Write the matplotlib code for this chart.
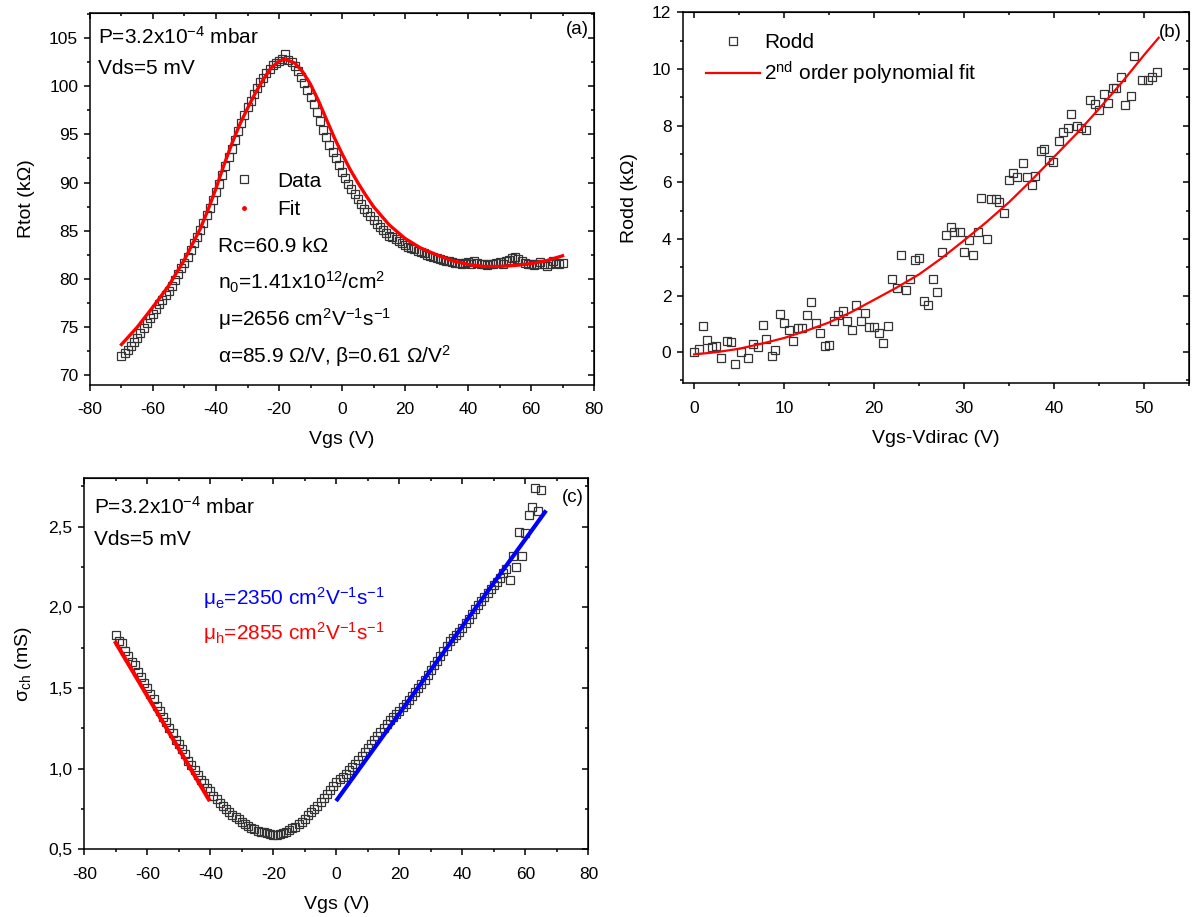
import numpy as np
import matplotlib.pyplot as plt
from matplotlib.ticker import MultipleLocator, FuncFormatter
from matplotlib.lines import Line2D

plt.rcParams['font.family'] = ['Liberation Sans', 'DejaVu Sans']
plt.rcParams['mathtext.fontset'] = 'custom'
plt.rcParams['mathtext.rm'] = 'Liberation Sans'
plt.rcParams['mathtext.it'] = 'Liberation Sans:italic'
plt.rcParams['mathtext.bf'] = 'Liberation Sans:bold'
plt.rcParams['axes.unicode_minus'] = False

# ---- (a) Rtot vs Vgs ----
vgs_a = np.arange(-70, 71)
rtot = [72.0, 72.3, 72.6, 73.0, 73.5, 73.9, 74.4, 74.9, 75.4, 75.9,
        76.4, 76.9, 77.4, 77.8, 78.3, 78.7, 79.3, 79.9, 80.5, 81.1,
        81.7, 82.3, 83.0, 83.7, 84.4, 85.1, 85.8, 86.6, 87.4, 88.2,
        89.0, 89.9, 90.8, 91.7, 92.6, 93.5, 94.4, 95.3, 96.2, 97.0,
        97.8, 98.5, 99.2, 99.8, 100.4, 100.9, 101.4, 101.8, 102.2, 102.4,
        102.6, 102.8, 103.3, 102.7, 102.5, 102.1, 101.6, 101.0, 100.3, 99.6,
        98.9, 98.1, 97.3, 96.4, 95.5, 94.7, 93.9, 93.2, 92.5, 91.8,
        91.1, 90.5, 89.9, 89.3, 88.8, 88.3, 87.8, 87.3, 86.9, 86.5,
        86.1, 85.7, 85.4, 85.1, 84.8, 84.5, 84.3, 84.1, 83.9, 83.7,
        83.5, 83.3, 83.2, 83.1, 82.9, 82.8, 82.7, 82.5, 82.4, 82.3,
        82.2, 82.1, 82.0, 81.9, 81.9, 81.8, 81.7, 81.7, 81.6, 81.7,
        81.8, 81.6, 81.9, 81.7, 81.5, 81.6, 81.4, 81.6, 81.5, 81.7,
        81.8, 81.6, 81.9, 82.0, 82.2, 82.3, 82.1, 81.9, 81.7, 81.6,
        81.5, 81.4, 81.6, 81.8, 81.5, 81.3, 81.6, 81.9, 81.7, 81.6,
        81.7]
fit_a_x = [-70, -65, -60, -55, -50, -45, -42.5, -40, -37.5, -35, -32.5, -30,
           -27.5, -25, -22.5, -20, -18, -15, -12.5, -10, -7.5, -5, -2.5, 0,
           2.5, 5, 7.5, 10, 15, 20, 25, 30, 35, 40, 45, 50, 55, 60, 65, 70]
fit_a_y = [73.2, 75.0, 77.1, 79.3, 82.0, 85.2, 87.2, 89.4, 91.8, 94.0,
           96.0, 97.7, 99.3, 100.7, 101.9, 102.6, 102.8, 102.4, 101.5, 100.2,
           98.5, 96.6, 94.7, 93.0, 91.4, 90.0, 88.7, 87.5, 85.6, 84.2,
           83.2, 82.5, 81.9, 81.5, 81.3, 81.3, 81.4, 81.6, 81.9, 82.4]

# ---- (b) Rodd vs Vgs-Vdirac ----
dv_b = [0, 0.5, 1.0, 1.45, 2.0, 2.4, 3.0, 3.6, 4.1, 4.5, 5.2, 6.0, 6.5, 7.1,
        7.6, 8.0, 8.6, 9.0, 9.5, 10.0, 10.5, 11.0, 11.5, 12.0, 12.5, 13.0,
        13.5, 14.0, 14.5, 15.0, 15.5, 16.0, 16.5, 17.0, 17.5, 18.0, 18.5,
        19.0, 19.4, 20.0, 20.5, 21.0, 21.5, 22.0, 22.5, 23.0, 23.5, 24.0,
        24.5, 25.0, 25.5, 26.0, 26.5, 27.0, 27.5, 28.0, 28.5, 28.9, 29.5,
        30.0, 30.5, 31.0, 31.5, 31.9, 32.5, 33.0, 33.5, 33.9, 34.4, 35.0,
        35.4, 35.9, 36.5, 37.0, 37.5, 37.9, 38.5, 38.9, 39.4, 39.9, 40.5,
        41.0, 41.5, 41.9, 42.5, 43.0, 43.5, 44.0, 44.5, 45.0, 45.5, 46.0,
        46.5, 46.9, 47.4, 47.9, 48.5, 48.9, 49.7, 50.4, 50.9, 51.4]
rodd = [0.0, 0.1, 0.93, 0.44, 0.18, 0.2, -0.2, 0.39, 0.35, -0.41, 0.0, -0.2,
        0.29, 0.19, 0.97, 0.48, -0.12, 0.06, 1.36, 1.03, 0.77, 0.39, 0.85,
        0.85, 1.32, 1.76, 1.03, 0.68, 0.21, 0.27, 1.09, 1.32, 1.47, 1.09,
        0.77, 1.67, 1.09, 1.38, 0.89, 0.88, 0.68, 0.33, 0.91, 2.6, 2.28,
        3.42, 2.2, 2.57, 3.25, 3.31, 1.79, 1.67, 2.57, 2.14, 3.52, 4.15,
        4.42, 4.24, 4.24, 3.52, 3.95, 3.42, 4.26, 5.43, 4.0, 5.41, 5.41,
        5.29, 4.9, 6.07, 6.34, 6.19, 6.69, 6.17, 5.9, 6.22, 7.1, 7.16, 6.79,
        6.72, 7.45, 7.77, 7.92, 8.41, 7.98, 7.92, 7.86, 8.92, 8.77, 8.56,
        9.11, 8.8, 9.32, 9.32, 9.73, 8.74, 9.03, 10.46, 9.62, 9.62, 9.72,
        9.88]
fit_b_x = [0, 2.5, 5, 7.5, 10, 12.5, 15, 17.5, 20, 22.5, 25, 27.5, 30, 32.5,
           35, 37.5, 40, 42.5, 45, 47.5, 50, 51.6]
fit_b_y = [-0.08, 0.0, 0.12, 0.3, 0.5, 0.76, 1.05, 1.42, 1.85, 2.28, 2.75,
           3.32, 3.95, 4.6, 5.3, 6.08, 6.9, 7.72, 8.6, 9.52, 10.5, 11.1]

# ---- (c) sigma_ch vs Vgs ----
vgs_c = np.arange(-70, 66)
sigma = [1.83, 1.79, 1.78, 1.73, 1.70, 1.66, 1.64, 1.60, 1.57, 1.53,
         1.50, 1.46, 1.43, 1.39, 1.36, 1.32, 1.29, 1.25, 1.22, 1.18,
         1.15, 1.12, 1.09, 1.05, 1.02, 0.99, 0.96, 0.93, 0.91, 0.88,
         0.86, 0.83, 0.81, 0.79, 0.77, 0.75, 0.73, 0.715, 0.70, 0.685,
         0.67, 0.655, 0.645, 0.635, 0.625, 0.615, 0.61, 0.605, 0.60, 0.595,
         0.59, 0.59, 0.595, 0.60, 0.61, 0.62, 0.63, 0.64, 0.655, 0.67,
         0.69, 0.71, 0.73, 0.75, 0.77, 0.795, 0.82, 0.845, 0.87, 0.895,
         0.92, 0.935, 0.95, 0.97, 0.99, 1.01, 1.03, 1.055, 1.08, 1.105,
         1.13, 1.155, 1.18, 1.205, 1.23, 1.255, 1.28, 1.30, 1.32, 1.34,
         1.36, 1.38, 1.40, 1.425, 1.45, 1.475, 1.50, 1.525, 1.55, 1.58,
         1.61, 1.64, 1.67, 1.70, 1.73, 1.76, 1.79, 1.81, 1.83, 1.85,
         1.87, 1.90, 1.93, 1.96, 1.99, 2.015, 2.04, 2.065, 2.09, 2.115,
         2.14, 2.16, 2.18, 2.21, 2.24, 2.17, 2.32, 2.25, 2.47, 2.32,
         2.46, 2.57, 2.62, 2.74, 2.60, 2.73]
hole_fit_x = [-70, -40.5]
hole_fit_y = [1.78, 0.81]
elec_fit_x = [0.3, 66.2]
elec_fit_y = [0.81, 2.59]

fig = plt.figure(figsize=(12.03, 9.17), dpi=100)

TICK = 12.5
LAB = 14
ANN = 15


def style(ax, xmaj, xmin, ymaj, ymin):
    for s in ax.spines.values():
        s.set_linewidth(1.1)
    ax.xaxis.set_major_locator(MultipleLocator(xmaj))
    ax.xaxis.set_minor_locator(MultipleLocator(xmin))
    ax.yaxis.set_major_locator(MultipleLocator(ymaj))
    ax.yaxis.set_minor_locator(MultipleLocator(ymin))
    ax.tick_params(which='both', direction='out', width=1.1, labelsize=TICK)
    ax.tick_params(which='major', length=4.5)
    ax.tick_params(which='minor', length=2.5)
    ax.tick_params(axis='x', pad=8)
    ax.tick_params(axis='y', pad=4)
    top = ax.secondary_xaxis('top')
    top.xaxis.set_major_locator(MultipleLocator(xmaj))
    top.xaxis.set_minor_locator(MultipleLocator(xmin))
    top.tick_params(which='both', direction='in', width=1.1, labeltop=False)
    top.tick_params(which='major', length=4.5)
    top.tick_params(which='minor', length=2.5)
    right = ax.secondary_yaxis('right')
    right.yaxis.set_major_locator(MultipleLocator(ymaj))
    right.yaxis.set_minor_locator(MultipleLocator(ymin))
    right.tick_params(which='both', direction='in', width=1.1, labelright=False)
    right.tick_params(which='major', length=4.5)
    right.tick_params(which='minor', length=2.5)


sq = dict(ls='none', marker='s', mfc='none', mec='#333333', ms=6, mew=0.9)

# panel (a)
ax1 = fig.add_axes([0.0748, 0.5802, 0.419, 0.4057])
ax1.plot(vgs_a, rtot, **sq)
ax1.plot(fit_a_x, fit_a_y, color='red', lw=2.4)
ax1.set_xlim(-80, 80)
ax1.set_ylim(69.0, 107.6)
style(ax1, 20, 10, 5, 2.5)
ax1.set_xlabel('Vgs (V)', fontsize=LAB, labelpad=10)
ax1.set_ylabel('Rtot (kΩ)', fontsize=LAB, labelpad=10)
ax1.text(0.015, 0.936, 'P=3.2x10$^{-4}$ mbar', transform=ax1.transAxes,
         fontsize=ANN, va='center')
ax1.text(0.015, 0.850, 'Vds=5 mV', transform=ax1.transAxes, fontsize=ANN,
         va='center')
ax1.text(0.99, 0.955, '(a)', transform=ax1.transAxes, fontsize=13.5,
         va='center', ha='right')
h_data = Line2D([], [], **sq)
h_fit = Line2D([], [], ls='none', marker='o', ms=2.5, color='red')
ax1.legend([h_data, h_fit], ['Data', 'Fit'], loc='center left',
           bbox_to_anchor=(0.265, 0.51), frameon=False, fontsize=ANN,
           handlelength=2, handletextpad=0.6, labelspacing=0.45,
           borderpad=0, borderaxespad=0)
info = ['Rc=60.9 kΩ', 'n$_0$=1.41x10$^{12}$/cm$^2$',
        'μ=2656 cm$^2$V$^{-1}$s$^{-1}$',
        'α=85.9 Ω/V, β=0.61 Ω/V$^2$']
for txt, yy in zip(info, [0.372, 0.275, 0.176, 0.079]):
    ax1.text(0.254, yy, txt, transform=ax1.transAxes, fontsize=ANN,
             va='center')

# panel (b)
ax2 = fig.add_axes([0.568, 0.582, 0.4206, 0.4046])
ax2.plot(dv_b, rodd, **sq)
ax2.plot(fit_b_x, fit_b_y, color='red', lw=1.6)
ax2.set_xlim(-1.2, 55)
ax2.set_ylim(-1.1, 12)
style(ax2, 10, 5, 2, 1)
ax2.set_xlabel('Vgs-Vdirac (V)', fontsize=LAB, labelpad=10)
ax2.set_ylabel('Rodd (kΩ)', fontsize=LAB, labelpad=10)
ax2.text(0.985, 0.945, '(b)', transform=ax2.transAxes, fontsize=13.5,
         va='center', ha='right')
h_rodd = Line2D([], [], **sq)
h_poly = Line2D([], [], color='red', lw=1.6)
ax2.legend([h_rodd, h_poly], ['Rodd', '2$^\\mathrm{nd}$ order polynomial fit'],
           loc='center left', bbox_to_anchor=(0.045, 0.871), frameon=False,
           fontsize=ANN, handlelength=2.6, handletextpad=0.2,
           labelspacing=0.35, borderpad=0, borderaxespad=0)

# panel (c)
ax3 = fig.add_axes([0.0701, 0.0738, 0.419, 0.4046])
ax3.plot(vgs_c, sigma, **sq)
ax3.plot(hole_fit_x, hole_fit_y, color='red', lw=3)
ax3.plot(elec_fit_x, elec_fit_y, color='blue', lw=3)
ax3.set_xlim(-80, 80)
ax3.set_ylim(0.5, 2.8)
style(ax3, 20, 10, 0.5, 0.25)
ax3.yaxis.set_major_formatter(FuncFormatter(lambda v, p: f'{v:.1f}'.replace('.', ',')))
ax3.set_xlabel('Vgs (V)', fontsize=LAB, labelpad=10)
ax3.set_ylabel('σ$_\\mathrm{ch}$ (mS)', fontsize=LAB, labelpad=10)
ax3.text(0.02, 0.923, 'P=3.2x10$^{-4}$ mbar', transform=ax3.transAxes,
         fontsize=ANN, va='center')
ax3.text(0.02, 0.834, 'Vds=5 mV', transform=ax3.transAxes, fontsize=ANN,
         va='center')
ax3.text(0.99, 0.947, '(c)', transform=ax3.transAxes, fontsize=13.5,
         va='center', ha='right')
ax3.text(0.236, 0.677, 'μ$_\\mathrm{e}$=2350 cm$^2$V$^{-1}$s$^{-1}$',
         transform=ax3.transAxes, fontsize=ANN, va='center', color='blue')
ax3.text(0.236, 0.583, 'μ$_\\mathrm{h}$=2855 cm$^2$V$^{-1}$s$^{-1}$',
         transform=ax3.transAxes, fontsize=ANN, va='center', color='red')

fig.savefig('out.png', dpi=100)
